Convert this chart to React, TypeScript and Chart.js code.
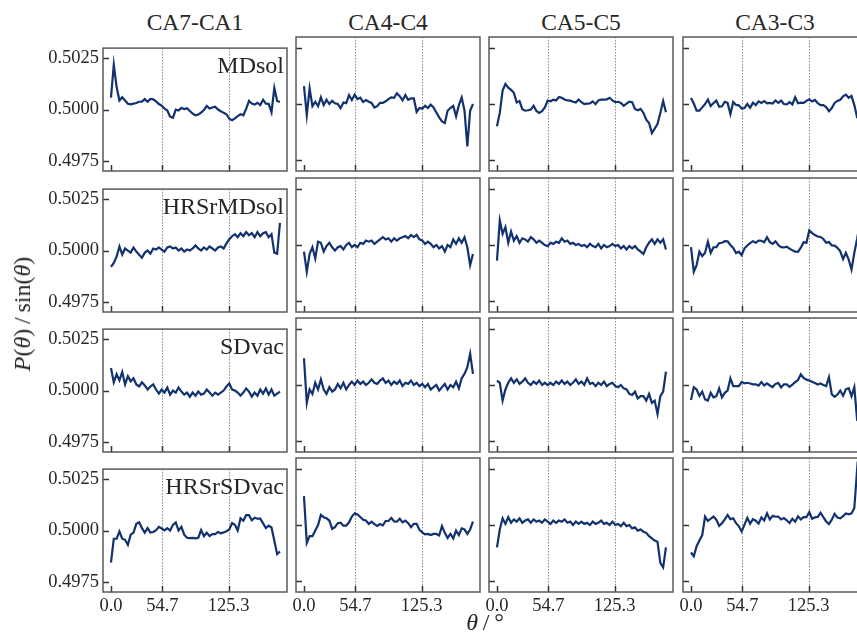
import { useEffect, useRef } from "react";
import { Chart, registerables } from "chart.js";

Chart.register(...registerables);

// ---------- data ----------
const THETA = [
  0, 3, 6, 9, 12, 15, 18, 21, 24, 27, 30, 33, 36, 39, 42, 45, 48, 51, 54, 57,
  60, 63, 66, 69, 72, 75, 78, 81, 84, 87, 90, 93, 96, 99, 102, 105, 108, 111, 114, 117,
  120, 123, 126, 129, 132, 135, 138, 141, 144, 147, 150, 153, 156, 159, 162, 165, 168, 171, 174, 177, 180,
];

const PAIRS = ["CA7-CA1", "CA4-C4", "CA5-C5", "CA3-C3"];
const METHODS = ["MDsol", "HRSrMDsol", "SDvac", "HRSrSDvac"];

const X_TICKS = [0, 54.7, 125.3];
const X_TICK_LABELS = ["0.0", "54.7", "125.3"];
const GUIDE_ANGLES = [54.7, 125.3];
const Y_TICKS = [0.4975, 0.5, 0.5025];
const Y_TICK_LABELS = ["0.4975", "0.5000", "0.5025"];

// MDsol
const MDSOL_CA7_CA1 = [
  0.50058, 0.50219, 0.5011, 0.50044, 0.5006, 0.50044, 0.50028, 0.50025, 0.50029, 0.50032,
  0.50038, 0.50039, 0.50051, 0.50038, 0.50052, 0.5005, 0.5004, 0.50027, 0.50019, 0.50005,
  0.49995, 0.49965, 0.4996, 0.5, 0.49995, 0.50008, 0.50002, 0.50006, 0.49993, 0.4998,
  0.49972, 0.49976, 0.49985, 0.49998, 0.50018, 0.50005, 0.5001, 0.50014, 0.5, 0.49992,
  0.49984, 0.49977, 0.49955, 0.49948, 0.49957, 0.49968, 0.49977, 0.49972, 0.50003, 0.50042,
  0.50029, 0.50024, 0.50033, 0.50022, 0.50048, 0.50029, 0.50028, 0.49987, 0.50105, 0.50042, 0.50037,
];
const MDSOL_CA4_C4 = [
  0.5008, 0.4995, 0.5007, 0.4999, 0.5001, 0.4999, 0.5003, 0.49995, 0.50019, 0.5,
  0.50014, 0.50003, 0.5, 0.49982, 0.50007, 0.50004, 0.5004, 0.50018, 0.50042, 0.50022,
  0.50028, 0.50009, 0.50018, 0.5001, 0.50005, 0.49984, 0.4999, 0.50005, 0.50005, 0.50012,
  0.50022, 0.5003, 0.50028, 0.50048, 0.50035, 0.50016, 0.5004, 0.50019, 0.50025, 0.50025,
  0.49965, 0.49982, 0.49979, 0.49992, 0.49982, 0.49997, 0.49985, 0.49962, 0.4994, 0.49922,
  0.49915, 0.4997, 0.49982, 0.49992, 0.49945, 0.49995, 0.50029, 0.4997, 0.4981, 0.4997, 0.5,
];
const MDSOL_CA5_C5 = [
  0.499, 0.4996, 0.5006, 0.5009, 0.50073, 0.50063, 0.5005, 0.50007, 0.50013, 0.49977,
  0.4997, 0.49972, 0.49975, 0.49992, 0.49969, 0.4996, 0.49968, 0.49985, 0.50015, 0.50012,
  0.50019, 0.50016, 0.50031, 0.50028, 0.5002, 0.50016, 0.50015, 0.5001, 0.50007, 0.5002,
  0.50008, 0.5, 0.50002, 0.50003, 0.50012, 0.5, 0.50016, 0.5002, 0.5002, 0.50021,
  0.50028, 0.50016, 0.50008, 0.5001, 0.50005, 0.49992, 0.50002, 0.5001, 0.50008, 0.49978,
  0.49972, 0.49978, 0.4996, 0.4993, 0.49915, 0.4987, 0.4989, 0.4991, 0.4996, 0.50013, 0.49963,
];
const MDSOL_CA3_C3 = [
  0.50027, 0.50002, 0.4997, 0.4997, 0.49985, 0.5, 0.5002, 0.49991, 0.50004, 0.50015,
  0.49988, 0.4999, 0.5001, 0.50005, 0.49955, 0.50009, 0.49996, 0.49994, 0.4998, 0.49982,
  0.5, 0.49983, 0.50006, 0.49995, 0.50012, 0.50005, 0.50013, 0.50003, 0.50005, 0.50002,
  0.50016, 0.50005, 0.50015, 0.5, 0.49998, 0.50008, 0.49998, 0.5003, 0.50003, 0.50006,
  0.50005, 0.50014, 0.50021, 0.50011, 0.50018, 0.50004, 0.49995, 0.49995, 0.49986, 0.49968,
  0.49982, 0.50005, 0.50014, 0.50019, 0.50034, 0.50042, 0.50028, 0.50036, 0.49995, 0.4994, 0.4993,
];

// HRSrMDsol
const HRSRMDSOL_CA7_CA1 = [
  0.4992, 0.4994, 0.4997, 0.5002, 0.4998, 0.5001, 0.5, 0.4999, 0.50015, 0.49995,
  0.4998, 0.49965, 0.4999, 0.5, 0.49985, 0.5001, 0.50005, 0.50015, 0.50005, 0.49995,
  0.50015, 0.5002, 0.5001, 0.50015, 0.5, 0.5001, 0.49995, 0.50005, 0.5, 0.5001,
  0.50025, 0.5001, 0.5, 0.50015, 0.50005, 0.5002, 0.5001, 0.5, 0.50015, 0.5002,
  0.5001, 0.50035, 0.50055, 0.5007, 0.5008, 0.50065, 0.50085, 0.5007, 0.5009, 0.50075,
  0.50085, 0.50065, 0.5009, 0.5007, 0.50085, 0.5009, 0.50065, 0.5008, 0.4999, 0.49985, 0.50135,
];
const HRSRMDSOL_CA4_C4 = [
  0.4997, 0.4988, 0.4996, 0.4999, 0.4994, 0.50015, 0.5001, 0.4997, 0.49995, 0.5001,
  0.4999, 0.49975, 0.4999, 0.49995, 0.4998, 0.5, 0.5001, 0.4999, 0.5, 0.4999,
  0.5001, 0.50005, 0.5002, 0.50015, 0.5002, 0.50005, 0.50015, 0.50025, 0.50035, 0.50025,
  0.5003, 0.50015, 0.5003, 0.5002, 0.5003, 0.50035, 0.5004, 0.5003, 0.50045, 0.50035,
  0.50045, 0.50025, 0.5002, 0.50005, 0.50015, 0.50005, 0.4999, 0.5, 0.49985, 0.49995,
  0.4997, 0.5, 0.4999, 0.50025, 0.50005, 0.5003, 0.5001, 0.50035, 0.4999, 0.4991, 0.4996,
];
const HRSRMDSOL_CA5_C5 = [
  0.4993, 0.5011, 0.5005, 0.5008, 0.5001, 0.5006, 0.5002, 0.5004, 0.5001, 0.5003,
  0.50025, 0.50015, 0.50035, 0.50025, 0.5001, 0.5002, 0.5001, 0.5, 0.49995, 0.5001,
  0.50005, 0.50015, 0.5001, 0.5003, 0.50015, 0.5002, 0.50005, 0.5001, 0.5, 0.50005,
  0.49995, 0.5, 0.4999, 0.50005, 0.49995, 0.4999, 0.50005, 0.49985, 0.5, 0.4999,
  0.49995, 0.50005, 0.49995, 0.5, 0.49985, 0.49995, 0.4998, 0.49995, 0.49985, 0.49995,
  0.4998, 0.4997, 0.4996, 0.4999, 0.5001, 0.50025, 0.50005, 0.50025, 0.5001, 0.50025, 0.4998,
];
const HRSRMDSOL_CA3_C3 = [
  0.4999, 0.4988, 0.4991, 0.4997, 0.4995, 0.49965, 0.50015, 0.49965, 0.4999, 0.4999,
  0.50008, 0.5001, 0.50017, 0.50016, 0.5, 0.49987, 0.49964, 0.4997, 0.49955, 0.49985,
  0.49998, 0.50008, 0.50017, 0.5001, 0.5002, 0.50019, 0.50012, 0.50035, 0.50013, 0.50005,
  0.50016, 0.5, 0.4999, 0.49989, 0.49992, 0.49984, 0.49976, 0.4997, 0.49969, 0.49988,
  0.50012, 0.5001, 0.50065, 0.50053, 0.50045, 0.50038, 0.50036, 0.50027, 0.5001, 0.50013,
  0.49998, 0.49997, 0.49987, 0.49972, 0.49937, 0.49965, 0.49935, 0.4989, 0.49965, 0.50028, 0.501,
];

// SDvac
const SDVAC_CA7_CA1 = [
  0.5011, 0.5004, 0.5008, 0.5005, 0.5009, 0.5003, 0.5007, 0.50045, 0.5006, 0.5003,
  0.5002, 0.5004, 0.50025, 0.50005, 0.5002, 0.5003, 0.50005, 0.49985, 0.50005, 0.4999,
  0.50015, 0.4998, 0.5, 0.4999, 0.50015, 0.49995, 0.4998, 0.4999, 0.4997, 0.4999,
  0.49975, 0.49995, 0.4998, 0.49985, 0.50005, 0.4999, 0.49975, 0.4999, 0.4998, 0.4999,
  0.5, 0.5002, 0.50035, 0.50005, 0.5, 0.4999, 0.49975, 0.4999, 0.5001, 0.49995,
  0.4997, 0.4999, 0.49975, 0.50005, 0.49985, 0.5001, 0.4998, 0.50005, 0.49975, 0.49985, 0.49995,
];
const SDVAC_CA4_C4 = [
  0.5012, 0.4992, 0.4998, 0.4996, 0.5001, 0.4998, 0.50025, 0.4998, 0.4996, 0.4999,
  0.4997, 0.4998, 0.50005, 0.49985, 0.5001, 0.4998, 0.5, 0.50015, 0.5, 0.5002,
  0.50005, 0.50015, 0.5, 0.5001, 0.50025, 0.5001, 0.50005, 0.5002, 0.5003, 0.5001,
  0.5002, 0.5, 0.50015, 0.50005, 0.5002, 0.49995, 0.5001, 0.50005, 0.5002, 0.5,
  0.5001, 0.49995, 0.50005, 0.4999, 0.50005, 0.4998, 0.4999, 0.5, 0.49975, 0.4999,
  0.50005, 0.4998, 0.5, 0.4999, 0.50015, 0.49985, 0.5003, 0.5005, 0.5008, 0.5014, 0.5005,
];
const SDVAC_CA5_C5 = [
  0.5002, 0.5001, 0.4993, 0.4998, 0.5001, 0.5003, 0.5001, 0.50025, 0.50005, 0.50015,
  0.5003, 0.5001, 0.5, 0.50015, 0.50005, 0.5002, 0.5, 0.5001, 0.5, 0.5001,
  0.5, 0.50015, 0.50005, 0.5002, 0.50005, 0.50015, 0.5, 0.5001, 0.50025, 0.50005,
  0.50015, 0.5, 0.5003, 0.50005, 0.5001, 0.49995, 0.5001, 0.5, 0.50015, 0.49995,
  0.50005, 0.5001, 0.49995, 0.4999, 0.5, 0.49985, 0.4998, 0.4996, 0.49955, 0.4997,
  0.4994, 0.4995, 0.4995, 0.4993, 0.4996, 0.4992, 0.4993, 0.4987, 0.4995, 0.4997, 0.5006,
];
const SDVAC_CA3_C3 = [
  0.49933, 0.4999, 0.4998, 0.49951, 0.4997, 0.49935, 0.4993, 0.49965, 0.49945, 0.4995,
  0.49985, 0.49945, 0.49965, 0.49975, 0.5003, 0.49995, 0.49995, 0.49995, 0.50014, 0.50007,
  0.5001, 0.50007, 0.50003, 0.50003, 0.49997, 0.50013, 0.49998, 0.50007, 0.49998, 0.49991,
  0.50005, 0.50009, 0.49989, 0.50003, 0.50003, 0.49992, 0.50002, 0.50013, 0.50022, 0.50048,
  0.50032, 0.50024, 0.5002, 0.50015, 0.50009, 0.50002, 0.50007, 0.5, 0.49995, 0.50035,
  0.49958, 0.49947, 0.49957, 0.49975, 0.49952, 0.49981, 0.49986, 0.4995, 0.4999, 0.49843, 0.4983,
];

// HRSrSDvac
const HRSRSDVAC_CA7_CA1 = [
  0.49844, 0.4996, 0.4996, 0.49995, 0.4996, 0.49955, 0.4993, 0.4998, 0.4999, 0.50033,
  0.5004, 0.50012, 0.4999, 0.50012, 0.4999, 0.49993, 0.50002, 0.50018, 0.5001, 0.50001,
  0.50012, 0.5, 0.50028, 0.5004, 0.5, 0.50018, 0.4998, 0.49965, 0.49963, 0.49964,
  0.49962, 0.49965, 0.50002, 0.49972, 0.49989, 0.49973, 0.49983, 0.49983, 0.49993, 0.49987,
  0.49991, 0.49997, 0.50005, 0.50036, 0.50028, 0.5, 0.5006, 0.50048, 0.50075, 0.50075,
  0.5005, 0.50063, 0.50058, 0.50058, 0.50035, 0.50012, 0.50024, 0.50015, 0.4995, 0.49885, 0.49898,
];
const HRSRSDVAC_CA4_C4 = [
  0.50129, 0.4992, 0.4995, 0.4995, 0.49975, 0.5, 0.50045, 0.50035, 0.5003, 0.5002,
  0.49983, 0.4999, 0.50008, 0.5001, 0.49997, 0.49997, 0.50012, 0.50038, 0.50052, 0.50047,
  0.50036, 0.50023, 0.5002, 0.50005, 0.50015, 0.50004, 0.49996, 0.50004, 0.49998, 0.50018,
  0.50018, 0.50032, 0.50016, 0.50015, 0.50028, 0.50012, 0.5002, 0.50008, 0.4999, 0.50005,
  0.50005, 0.49978, 0.49967, 0.49958, 0.4996, 0.49955, 0.4996, 0.4996, 0.49953, 0.49995,
  0.49965, 0.49942, 0.4996, 0.4994, 0.49975, 0.49955, 0.49985, 0.4998, 0.4996, 0.4998, 0.50015,
];
const HRSRSDVAC_CA5_C5 = [
  0.499, 0.4998, 0.5003, 0.50005, 0.50035, 0.5001, 0.50025, 0.50015, 0.5003, 0.5001,
  0.5002, 0.50025, 0.5001, 0.50025, 0.50015, 0.5002, 0.5001, 0.50025, 0.50015, 0.50005,
  0.5002, 0.5001, 0.5002, 0.50015, 0.50025, 0.5001, 0.50015, 0.5, 0.50015, 0.50005,
  0.50015, 0.50005, 0.5001, 0.5, 0.50015, 0.50005, 0.5001, 0.5002, 0.50005, 0.5001,
  0.5, 0.50015, 0.5, 0.50005, 0.49995, 0.5001, 0.49995, 0.5, 0.49985, 0.4999,
  0.49975, 0.4998, 0.4997, 0.49965, 0.4995, 0.4994, 0.4993, 0.49925, 0.4983, 0.4981, 0.499,
];
const HRSRSDVAC_CA3_C3 = [
  0.49877, 0.4986, 0.49905, 0.49931, 0.49955, 0.50038, 0.50018, 0.50028, 0.50038, 0.50024,
  0.49996, 0.50008, 0.50025, 0.50045, 0.50026, 0.5003, 0.50008, 0.49994, 0.49971, 0.50002,
  0.50032, 0.50006, 0.50026, 0.50019, 0.50006, 0.50034, 0.5002, 0.50052, 0.50025, 0.50041,
  0.50037, 0.50038, 0.50025, 0.50031, 0.50021, 0.50009, 0.50028, 0.50015, 0.50039, 0.50025,
  0.50035, 0.50035, 0.50058, 0.50028, 0.50034, 0.50036, 0.50055, 0.50035, 0.50016, 0.50004,
  0.50024, 0.5005, 0.50033, 0.5003, 0.5004, 0.50052, 0.50048, 0.50052, 0.50076, 0.5025, 0.5018,
];

const SERIES = [
  [MDSOL_CA7_CA1, MDSOL_CA4_C4, MDSOL_CA5_C5, MDSOL_CA3_C3],
  [HRSRMDSOL_CA7_CA1, HRSRMDSOL_CA4_C4, HRSRMDSOL_CA5_C5, HRSRMDSOL_CA3_C3],
  [SDVAC_CA7_CA1, SDVAC_CA4_C4, SDVAC_CA5_C5, SDVAC_CA3_C3],
  [HRSRSDVAC_CA7_CA1, HRSRSDVAC_CA4_C4, HRSRSDVAC_CA5_C5, HRSRSDVAC_CA3_C3],
];

// ---------- layout & style ----------
const COL_LEFT = [103, 296, 489, 683];
const ROW_TOP = [37, 178, 318, 458];
const PW = 184;
const PH = 134;
const ML = 70;
const MT = 4;
const MR = 4;
const MB = 30;
const X_MIN = -8.5;
const X_MAX = 187.5;
const Y_MIN = 0.497;
const Y_MAX = 0.503;

const SERIF = "'Liberation Serif', 'DejaVu Serif', serif";
const LINE_COLOR = "#12326f";
const FRAME_COLOR = "#5a5a5a";
const TICK_COLOR = "#333333";
const GUIDE_COLOR = "#8a8a8a";
const TEXT_COLOR = "#262626";

function makeDecor(row: number, col: number) {
  return {
    id: "panelDecor",
    beforeDatasetsDraw(chart: any) {
      const { ctx, chartArea: a, scales } = chart;
      ctx.save();
      ctx.strokeStyle = GUIDE_COLOR;
      ctx.lineWidth = 1;
      ctx.setLineDash([1.5, 1.5]);
      for (const v of GUIDE_ANGLES) {
        const px = Math.round(scales.x.getPixelForValue(v)) + 0.5;
        ctx.beginPath();
        ctx.moveTo(px, a.top);
        ctx.lineTo(px, a.bottom);
        ctx.stroke();
      }
      ctx.restore();
    },
    afterDatasetsDraw(chart: any) {
      const { ctx, chartArea: a, scales } = chart;
      ctx.save();
      ctx.strokeStyle = TICK_COLOR;
      ctx.lineWidth = 1.5;
      for (const v of Y_TICKS) {
        const py = Math.round(scales.y.getPixelForValue(v)) + 0.5;
        ctx.beginPath();
        ctx.moveTo(a.left, py);
        ctx.lineTo(a.left + 6, py);
        ctx.stroke();
      }
      for (const v of X_TICKS) {
        const px = Math.round(scales.x.getPixelForValue(v)) + 0.5;
        ctx.beginPath();
        ctx.moveTo(px, a.bottom);
        ctx.lineTo(px, a.bottom - 6);
        ctx.stroke();
      }
      ctx.strokeStyle = FRAME_COLOR;
      ctx.lineWidth = 1.5;
      ctx.strokeRect(a.left, a.top, a.right - a.left, a.bottom - a.top);
      if (col === 0) {
        ctx.fillStyle = TEXT_COLOR;
        ctx.font = `24px ${SERIF}`;
        ctx.textAlign = "right";
        ctx.textBaseline = "alphabetic";
        ctx.fillText(METHODS[row], a.right - 3, a.top + 25);
      }
      ctx.restore();
    },
  };
}

function Panel({ row, col }: { row: number; col: number }) {
  const ref = useRef<HTMLCanvasElement>(null);
  const w = ML + PW + MR;
  const h = MT + PH + MB;
  useEffect(() => {
    const canvas = ref.current;
    if (!canvas) return;
    const values = SERIES[row][col];
    const chart = new Chart(canvas, {
      type: "line",
      data: {
        datasets: [
          {
            data: THETA.map((t, i) => ({ x: t, y: values[i] })),
            borderColor: LINE_COLOR,
            borderWidth: 2.2,
            pointRadius: 0,
            tension: 0,
            fill: false,
          },
        ],
      },
      options: {
        animation: false,
        responsive: false,
        devicePixelRatio: 1,
        events: [],
        layout: { padding: { top: MT, right: MR, left: 0, bottom: 0 } },
        plugins: {
          legend: { display: false },
          tooltip: { enabled: false },
          title: { display: false },
        },
        scales: {
          x: {
            type: "linear",
            min: X_MIN,
            max: X_MAX,
            afterBuildTicks: (s: any) => {
              s.ticks = X_TICKS.map((v) => ({ value: v }));
            },
            afterFit: (s: any) => {
              s.height = MB;
            },
            grid: { display: false, drawTicks: false },
            border: { display: false },
            ticks: {
              display: row === 3,
              autoSkip: false,
              maxRotation: 0,
              padding: 3,
              color: TEXT_COLOR,
              font: { family: SERIF, size: 18.5 },
              callback: (_v: any, i: number) => X_TICK_LABELS[i],
            },
          },
          y: {
            type: "linear",
            min: Y_MIN,
            max: Y_MAX,
            afterBuildTicks: (s: any) => {
              s.ticks = Y_TICKS.map((v) => ({ value: v }));
            },
            afterFit: (s: any) => {
              s.width = ML;
            },
            grid: { display: false, drawTicks: false },
            border: { display: false },
            ticks: {
              display: col === 0,
              autoSkip: false,
              padding: 4,
              color: TEXT_COLOR,
              font: { family: SERIF, size: 18.5 },
              callback: (_v: any, i: number) => Y_TICK_LABELS[i],
            },
          },
        },
      } as any,
      plugins: [makeDecor(row, col)],
    });
    return () => chart.destroy();
  }, [row, col]);
  return (
    <canvas
      ref={ref}
      width={w}
      height={h}
      style={{
        position: "absolute",
        left: COL_LEFT[col] - ML,
        top: ROW_TOP[row] - MT,
        width: w,
        height: h,
      }}
    />
  );
}

export default function App() {
  const panels = [];
  for (let r = 0; r < 4; r++) {
    for (let c = 0; c < 4; c++) {
      panels.push(<Panel key={`${r}-${c}`} row={r} col={c} />);
    }
  }
  return (
    <div
      style={{
        position: "fixed",
        left: 0,
        top: 0,
        width: 857,
        height: 633,
        overflow: "hidden",
        background: "#ffffff",
        fontFamily: SERIF,
        color: TEXT_COLOR,
      }}
    >
      {PAIRS.map((p, c) => (
        <div
          key={p}
          style={{
            position: "absolute",
            left: COL_LEFT[c],
            width: PW,
            top: 11,
            textAlign: "center",
            fontSize: 23.5,
            lineHeight: "23.5px",
            whiteSpace: "nowrap",
          }}
        >
          {p}
        </div>
      ))}
      {panels}
      <div
        style={{
          position: "absolute",
          left: 22,
          top: 314,
          transform: "translate(-50%, -50%) rotate(-90deg)",
          fontSize: 24,
          lineHeight: "24px",
          whiteSpace: "nowrap",
        }}
      >
        <i>P</i>(<i>θ</i>)&thinsp;/&thinsp;sin(<i>θ</i>)
      </div>
      <div
        style={{
          position: "absolute",
          left: 385,
          width: 200,
          top: 610,
          textAlign: "center",
          fontSize: 24,
          lineHeight: "24px",
          whiteSpace: "nowrap",
        }}
      >
        <i>θ</i>&thinsp;/&thinsp;°
      </div>
    </div>
  );
}
